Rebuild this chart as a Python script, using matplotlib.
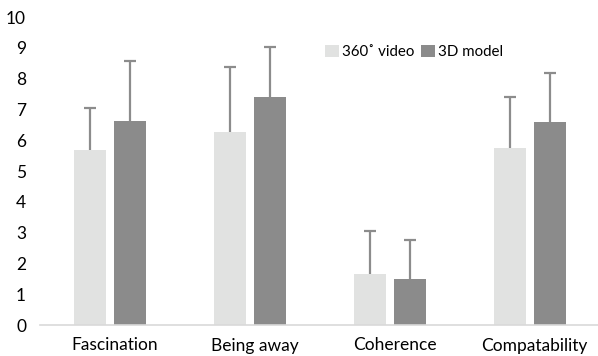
import matplotlib
matplotlib.use("Agg")
import matplotlib.pyplot as plt
import matplotlib.transforms as mtransforms
import numpy as np

plt.rcParams['font.family'] = ['Lato', 'DejaVu Sans']

categories = ["Fascination", "Being away", "Coherence", "Compatability"]
video_mean = [5.68, 6.27, 1.65, 5.76]
video_err = [1.37, 2.10, 1.40, 1.64]
model_mean = [6.63, 7.40, 1.49, 6.59]
model_err = [1.94, 1.62, 1.27, 1.60]
series_names = ["360˚ video", "3D model"]
yticks = list(range(0, 11))

light = "#e1e2e1"
dark = "#8b8b8b"
errc = "#8c8c8c"

fig = plt.figure(figsize=(5.98, 3.56), dpi=100)
ax = fig.add_axes([40/598, 31/356, 560/598, 308/356])

x = np.arange(len(categories))
w = 0.222
off = 0.143
ax.bar(x - off, video_mean, w, color=light, label=series_names[0], zorder=2)
ax.bar(x + off, model_mean, w, color=dark, label=series_names[1], zorder=2)
ekw = dict(fmt='none', ecolor=errc, elinewidth=1.6, capsize=4, capthick=1.6, zorder=1)
for xs, m, e in [(x - off, video_mean, video_err), (x + off, model_mean, model_err)]:
    eb = ax.errorbar(xs, m, yerr=[np.zeros(len(m)), e], **ekw)
    eb[1][0].set_visible(False)

ax.set_xlim(-0.5, 3.5)
ax.set_ylim(0, 10)
ax.set_yticks(yticks)
ax.set_xticks(x)
ax.set_xticklabels(categories)
ax.tick_params(axis='both', length=0, labelsize=12.5, colors='black')
ax.tick_params(axis='x', pad=9)
ax.tick_params(axis='y', pad=10)
shift = mtransforms.ScaledTranslation(4.5/100, 0, fig.dpi_scale_trans)
for lbl in ax.get_xticklabels():
    lbl.set_transform(lbl.get_transform() + shift)
for s in ['top', 'right', 'left']:
    ax.spines[s].set_visible(False)
ax.spines['bottom'].set_color('#d9d9d9')
ax.spines['bottom'].set_linewidth(1.2)

leg = ax.legend(ncol=2, frameon=False, loc='center', bbox_to_anchor=(414/598, 304/356),
                bbox_transform=fig.transFigure, fontsize=10.8,
                handlelength=0.9, handleheight=0.9, handletextpad=0.2, columnspacing=0.5,
                borderpad=0)

fig.savefig("out.png", dpi=100)
